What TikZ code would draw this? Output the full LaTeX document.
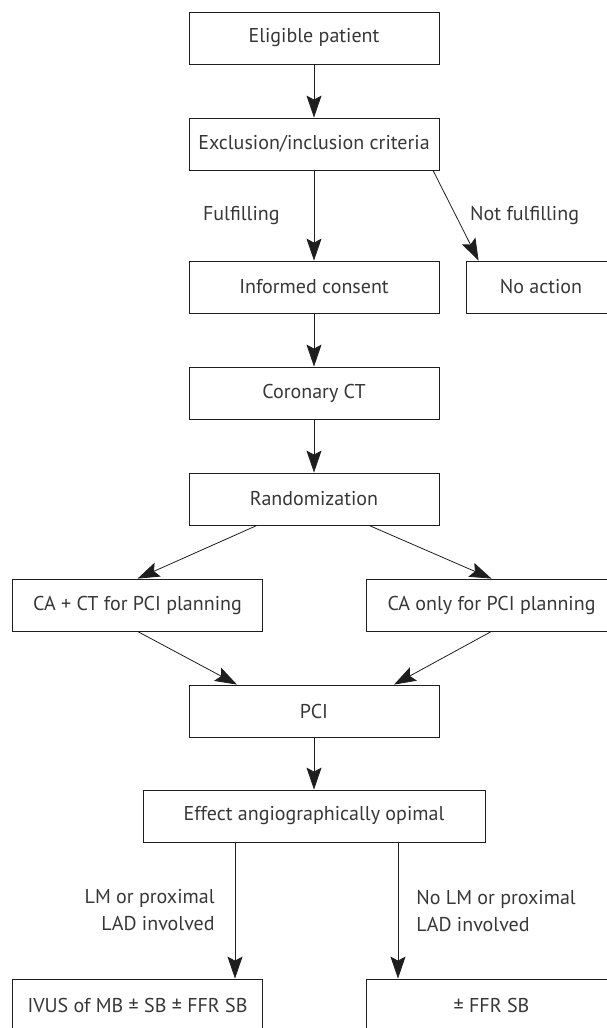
\documentclass[tikz,border=0pt]{standalone}
\usepackage{fontspec}
\setmainfont{PT Sans}
\usetikzlibrary{arrows.meta, calc}
\definecolor{lineGrey}{RGB}{30, 30, 30}
\definecolor{textGrey}{RGB}{55, 55, 55}

\begin{document}
\begin{tikzpicture} [x=1pt, y=-1pt,
        box/.style={draw=lineGrey, line width=0.8pt, minimum width=250pt, minimum height=52pt, inner sep=0pt, text=textGrey, font=\fontsize{20}{27}\selectfont},
        wide/.style={minimum width=342pt},
        small/.style={minimum width=150pt},
        flow/.style={draw=lineGrey, line width=0.8pt, -{Stealth[length=22pt, width=15pt, inset=4pt]}},
        label left/.style={inner sep=0pt, text=textGrey, font=\fontsize{20}{27}\selectfont, align=right, left=20pt},
        label right/.style={inner sep=0pt, text=textGrey, font=\fontsize{20}{27}\selectfont, align=left, right=14pt}
    ]

    \useasboundingbox (0,0) rectangle (607,1028);
    \clip (0,0) rectangle (607,1028);

    \node[box] (eligible) at (314,38) {Eligible patient};
    \node[box] (criteria) at (314,144) {Exclusion/inclusion criteria};
    \node[box] (consent) at (314,287) {Informed consent};
    \node[box, small] (no action) at (541,287) {No action};
    \node[box] (coronary ct) at (314,393) {Coronary CT};
    \node[box] (random) at (314,499) {Randomization};
    \node[box] (ca ct) at (137.5,605) {CA + CT for PCI planning};
    \node[box] (ca only) at (491.5,605) {CA only for PCI planning};
    \node[box] (pci) at (314,711) {PCI};
    \node[box, wide] (effect) at (314,816) {Effect angiographically opimal};
    \node[box] (ivus) at (137.5,1005) {IVUS of MB ± SB ± FFR SB};
    \node[box] (ffr) at (491.5,1005) {± FFR SB};

    \draw[flow] (eligible) -- (criteria);
    \draw[flow] (criteria) -- node[label left, left=14pt] {Fulfilling} (consent);
    \draw[flow] ($ (criteria.south) + (119,0) $) -- node[label right] {Not fulfilling} ($ (no action.north west) + (13,0) $);
    \draw[flow] (consent) -- (coronary ct);
    \draw[flow] (coronary ct) -- (random);

    % randomised arms
    \draw[flow] ($ (random.south) + (-57,0) $) -- (ca ct.north);
    \draw[flow] ($ (random.south) + (55,0) $) -- (ca only.north);
    \draw[flow] (ca ct.south) -- ($ (pci.north) + (-77,0) $);
    \draw[flow] (ca only.south) -- ($ (pci.north) + (80,0) $);
    \draw[flow] (pci) -- (effect);

    \coordinate (lm) at ($ (effect.south) + (-79,0) $);
    \coordinate (no lm) at ($ (effect.south) + (84,0) $);
    \draw[flow] (lm) -- node[label left] {LM or proximal\\LAD involved} (lm |- ivus.north);
    \draw[flow] (no lm) -- node[label right, right=4pt] {No LM or proximal\\LAD involved} (no lm |- ffr.north);

\end{tikzpicture}
\end{document}
